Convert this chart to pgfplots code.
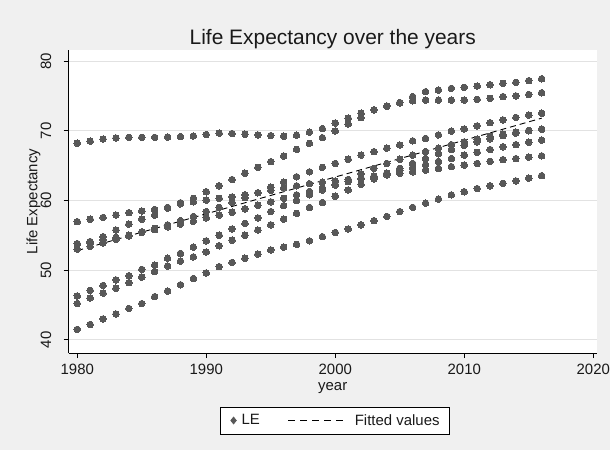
\documentclass[border=0pt]{standalone}
\usepackage{pgfplots}
\pgfplotsset{compat=1.18}
\usepackage{pgfplotstable}
\usepackage{fontspec}
\setmainfont{Liberation Sans}
\definecolor{bggray}{RGB}{240,240,240}
\definecolor{markgray}{RGB}{88,88,88}
\definecolor{gridgray}{RGB}{226,226,226}
\definecolor{txt}{RGB}{25,25,25}

\pgfplotstableread{
year AFG BTN NPL IND BGD PAK MDV LKA
1980 41.5 45.2 46.3 53.8 53.0 56.95 53.0 68.2
1981 42.2 46.0 47.1 54.1 53.4 57.3 53.9 68.5
1982 43.0 46.7 47.8 54.4 53.9 57.55 54.8 68.8
1983 43.7 47.4 48.6 54.7 54.4 57.9 55.75 68.95
1984 44.5 48.2 49.2 55.0 54.9 58.24 56.6 69.05
1985 45.2 49.0 50.1 55.4 55.5 58.48 57.3 69.05
1986 46.2 49.8 50.7 55.8 56.0 58.7 57.9 69.05
1987 47.0 50.6 51.7 56.2 56.5 59.0 58.9 69.1
1988 47.9 51.3 52.4 56.6 57.1 59.5 59.67 69.15
1989 48.8 51.9 53.3 57.0 57.7 59.8 60.3 69.25
1990 49.6 52.6 54.2 57.5 58.4 60.05 61.25 69.45
1991 50.5 53.5 55.0 57.9 59.0 60.3 62.1 69.65
1992 51.1 54.3 55.9 58.3 59.7 60.5 63.0 69.6
1993 51.7 55.0 56.7 58.8 60.4 60.8 63.9 69.5
1994 52.3 55.75 57.5 59.3 61.1 61.1 64.75 69.4
1995 52.9 56.5 58.4 59.8 61.9 61.45 65.56 69.3
1996 53.3 57.3 59.25 60.3 62.6 61.8 66.37 69.2
1997 53.7 58.15 60.0 60.8 63.4 62.1 67.33 69.35
1998 54.2 59.0 60.8 61.3 64.1 62.4 68.19 69.8
1999 54.8 59.7 61.5 61.8 64.75 62.6 69.0 70.3
2000 55.4 60.6 62.2 62.3 65.3 62.8 69.96 71.1
2001 55.9 61.5 63.0 62.7 65.9 63.0 70.96 71.8
2002 56.5 62.3 63.8 63.1 66.5 63.2 71.87 72.5
2003 57.1 63.1 64.6 63.5 67.0 63.4 72.97 73.0
2004 57.7 63.9 65.3 63.9 67.5 63.65 73.55 73.5
2005 58.4 64.6 65.9 64.3 67.95 63.9 74.05 74.0
2006 59.0 65.3 66.5 64.7 68.55 64.1 74.9 74.3
2007 59.6 66.0 67.0 65.1 68.9 64.36 75.6 74.4
2008 60.2 66.7 67.5 65.6 69.4 64.6 75.84 74.4
2009 60.8 67.3 68.0 66.0 69.95 64.84 76.08 74.4
2010 61.25 67.9 68.4 66.5 70.25 65.08 76.22 74.4
2011 61.7 68.4 68.8 66.9 70.7 65.3 76.41 74.5
2012 62.1 68.85 69.2 67.3 71.15 65.6 76.6 74.65
2013 62.45 69.3 69.5 67.7 71.55 65.85 76.8 74.9
2014 62.8 69.65 69.8 68.0 71.9 66.0 76.94 75.0
2015 63.2 70.0 70.05 68.35 72.25 66.2 77.18 75.2
2016 63.55 70.2 70.25 68.65 72.5 66.4 77.46 75.45
}\ledata

\begin{document}
\begin{tikzpicture}
\fill[bggray] (-68.5bp,-97bp) rectangle (541.5bp,353bp);
\begin{axis}[
  at={(0,0)}, anchor=south west,
  scale only axis, width=528.5bp, height=303bp,
  xmin=1979.32, xmax=2020.29, ymin=38.11, ymax=81.58,
  axis background/.style={fill=white},
  axis lines*=left, axis line style={-, line width=0.8bp, black},
  xtick={1980,1990,2000,2010,2020}, xticklabels={1980,1990,2000,2010,2020},
  ytick={40,50,60,70,80}, yticklabels={40,50,60,70,80},
  tick align=outside, major tick length=5bp,
  tick style={line width=0.8bp, black},
  ymajorgrids, grid style={gridgray, line width=0.8bp},
  ticklabel style={font=\fontsize{15}{18}\selectfont, text=txt},
  xticklabel style={anchor=north, inner sep=0pt},
  yticklabel style={rotate=90, anchor=south, inner sep=0pt},
  xticklabel shift=5.5bp, yticklabel shift=12bp,
  every axis title shift=0pt,
  title={Life Expectancy over the years},
  title style={font=\fontsize{21}{25}\selectfont, text=txt, at={(axis description cs:0.5,1.01815)}, anchor=base, inner sep=0pt},
  xlabel={year},
  xlabel style={font=\fontsize{15}{18}\selectfont, text=txt, at={(axis description cs:0.5,-0.1238)}, anchor=base, inner sep=0pt},
  ylabel={Life Expectancy},
  ylabel style={font=\fontsize{15}{18}\selectfont, text=txt, at={(axis description cs:-0.0587,0.5)}, anchor=base, inner sep=0pt},
  legend style={at={(axis description cs:0.5043,-0.2228)}, anchor=center, draw=black, line width=0.6bp, fill=white,
    font=\fontsize{15}{18}\selectfont, text=txt, inner xsep=10bp, inner ysep=7.5bp,
    nodes={inner sep=0pt},
    /tikz/every odd column/.append style={column sep=5bp},
    /tikz/every even column/.append style={column sep=28bp}},
  legend columns=2,
]
\addplot[only marks, mark=*, mark size=3.3bp, mark options={fill=markgray, draw=markgray, line width=0pt},
  legend image code/.code={\fill[markgray] (0bp,-3.5bp) -- (2.8bp,0bp) -- (0bp,3.5bp) -- (-2.8bp,0bp) -- cycle;}]
  table[x=year, y=AFG] {\ledata};
\addlegendentry{LE}
\addplot[only marks, mark=*, mark size=3.3bp, mark options={fill=markgray, draw=markgray, line width=0pt}, forget plot] table[x=year, y=BTN] {\ledata};
\addplot[only marks, mark=*, mark size=3.3bp, mark options={fill=markgray, draw=markgray, line width=0pt}, forget plot] table[x=year, y=NPL] {\ledata};
\addplot[only marks, mark=*, mark size=3.3bp, mark options={fill=markgray, draw=markgray, line width=0pt}, forget plot] table[x=year, y=IND] {\ledata};
\addplot[only marks, mark=*, mark size=3.3bp, mark options={fill=markgray, draw=markgray, line width=0pt}, forget plot] table[x=year, y=BGD] {\ledata};
\addplot[only marks, mark=*, mark size=3.3bp, mark options={fill=markgray, draw=markgray, line width=0pt}, forget plot] table[x=year, y=PAK] {\ledata};
\addplot[only marks, mark=*, mark size=3.3bp, mark options={fill=markgray, draw=markgray, line width=0pt}, forget plot] table[x=year, y=MDV] {\ledata};
\addplot[only marks, mark=*, mark size=3.3bp, mark options={fill=markgray, draw=markgray, line width=0pt}, forget plot] table[x=year, y=LKA] {\ledata};
\addplot[black, line width=0.9bp, dash pattern=on 6bp off 4bp, no marks,
  legend image code/.code={\draw[black, line width=0.9bp, dash pattern=on 7bp off 5bp] (0bp,0bp) -- (56bp,0bp); \path (61bp,0bp);}]
  coordinates {(1980,52.8) (2016,71.8)};
\addlegendentry{Fitted values}
\end{axis}
\end{tikzpicture}
\end{document}
